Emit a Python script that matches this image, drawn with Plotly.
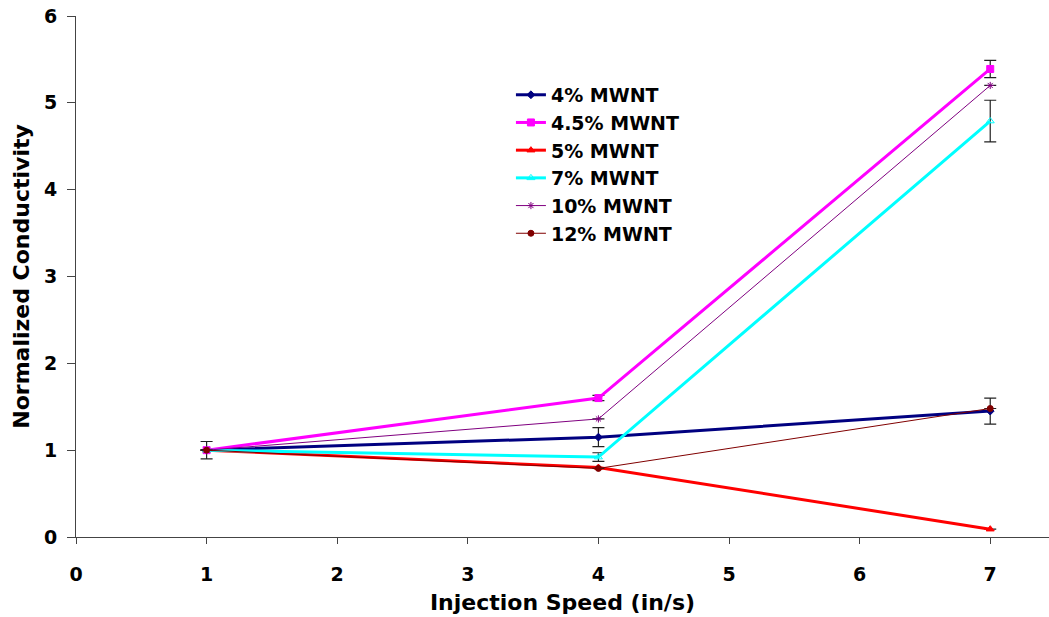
import plotly.graph_objects as go

speed = [1, 4, 7]
series_names = ["4% MWNT", "4.5% MWNT", "5% MWNT", "7% MWNT", "10% MWNT", "12% MWNT"]
vals_4 = [1.0, 1.15, 1.45]
vals_45 = [1.0, 1.60, 5.39]
vals_5 = [1.0, 0.80, 0.09]
vals_7 = [1.0, 0.92, 4.79]
vals_10 = [1.0, 1.36, 5.20]
vals_12 = [1.0, 0.79, 1.48]
err_4 = [0.10, 0.11, 0.15]
err_45 = [0.0, 0.03, 0.10]
err_5 = [0.0, 0.0, 0.0]
err_7 = [0.0, 0.05, 0.24]
err_10 = [0.0, 0.0, 0.0]
err_12 = [0.0, 0.0, 0.0]

colors = ["#000080", "#FF00FF", "#FF0000", "#00FFFF", "#800080", "#800000"]
widths = [3, 3, 3, 3, 1, 1]
symbols = ["diamond", "square", "triangle-up", "triangle-up-open", "asterisk-open", "circle"]
sizes = [6, 7, 7, 7, 6, 6]
all_vals = [vals_4, vals_45, vals_5, vals_7, vals_10, vals_12]
all_err = [err_4, err_45, err_5, err_7, err_10, err_12]

FONT = "DejaVu Sans"

fig = go.Figure()
for name, v, e, c, w, s, sz in zip(series_names, all_vals, all_err, colors, widths, symbols, sizes):
    fig.add_trace(go.Scatter(
        x=speed, y=v, name=name, mode="lines+markers",
        line=dict(color=c, width=w),
        marker=dict(symbol=s, size=sz, color=c, line=dict(color=c, width=1)),
        error_y=dict(type="data", array=e, visible=True, color="#222222", thickness=1.2, width=6),
    ))

fig.update_layout(
    width=1049, height=617,
    paper_bgcolor="white", plot_bgcolor="white",
    margin=dict(l=76, r=0, t=16, b=80),
    font=dict(family=FONT, color="black"),
    showlegend=True,
    legend=dict(x=0.447, y=0.885, xanchor="left", yanchor="top", bgcolor="rgba(0,0,0,0)",
                font=dict(size=19, family=FONT, weight="bold"),
                tracegroupgap=0, itemwidth=30),
    xaxis=dict(range=[0, 7.45], tickmode="array", tickvals=[0, 1, 2, 3, 4, 5, 6, 7],
               showgrid=False, zeroline=False, showline=True, linecolor="#444444", linewidth=1,
               ticks="outside", ticklen=6, tickcolor="#444444", ticklabelstandoff=14,
               tickfont=dict(size=19, weight="bold"),
               title=dict(text="Injection Speed (in/s)", font=dict(size=22, weight="bold"), standoff=10)),
    yaxis=dict(range=[0, 6], tickmode="array", tickvals=[0, 1, 2, 3, 4, 5, 6],
               showgrid=False, zeroline=False, showline=True, linecolor="#444444", linewidth=1,
               ticks="outside", ticklen=8, tickcolor="#444444", ticklabelstandoff=6,
               tickfont=dict(size=19, weight="bold"),
               title=dict(text="Normalized Conductivity", font=dict(size=22, weight="bold"), standoff=8)),
)

fig.write_html("out.html")
